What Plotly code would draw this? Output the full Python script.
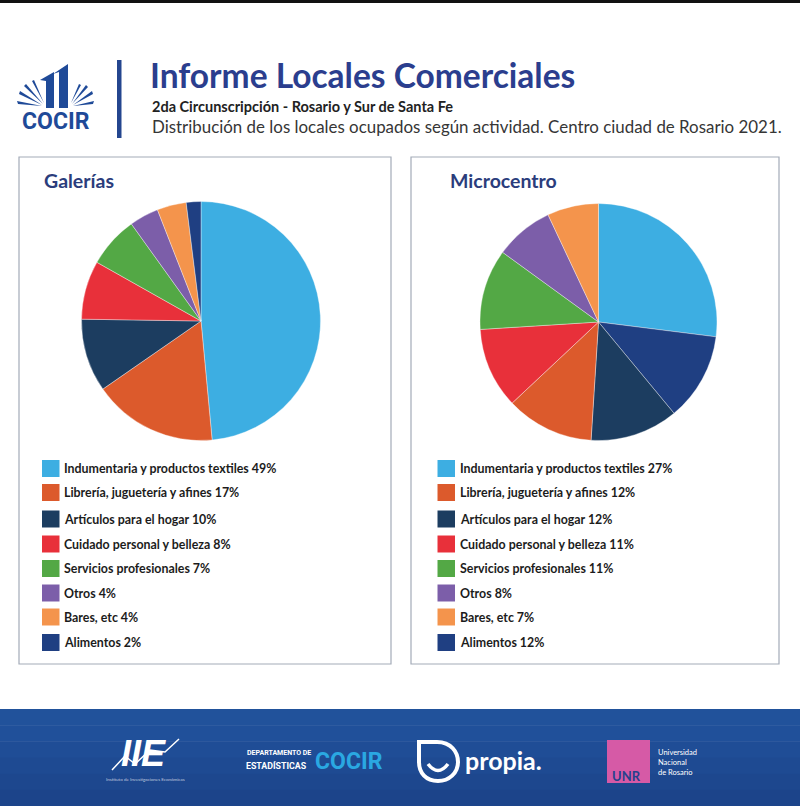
import plotly.graph_objects as go

# ---------------- data ----------------
categories = [
    "Indumentaria y productos textiles",
    "Librería, juguetería y afines",
    "Artículos para el hogar",
    "Cuidado personal y belleza",
    "Servicios profesionales",
    "Otros",
    "Bares, etc",
    "Alimentos",
]
colors = ["#3daee2", "#dc5a2c", "#1c3d60", "#e8303a", "#53a845", "#7c5ea9", "#f4944c", "#1f3f82"]
galerias_pct = [49, 17, 10, 8, 7, 4, 4, 2]
microcentro_pct = [27, 12, 12, 11, 11, 8, 7, 12]
# clockwise drawing order (from 12 o'clock) of slices in each pie
galerias_order = [0, 1, 2, 3, 4, 5, 6, 7]
microcentro_order = [0, 7, 2, 1, 3, 4, 5, 6]
panel_titles = ["Galerías", "Microcentro"]

W, H = 800, 806
FONT = "Lato"
NARROW = "Roboto"


def px(x):
    return x / W


def py(y):
    return 1 - y / H


fig = go.Figure()

# hidden axes in pixel units for decorative shapes
fig.add_trace(go.Scatter(x=[], y=[], hoverinfo="skip", showlegend=False))


def add_pie(values, order, cx, cy, r, name):
    fig.add_trace(go.Pie(
        labels=[categories[i] for i in order],
        values=[values[i] for i in order],
        marker=dict(colors=[colors[i] for i in order], line=dict(color="rgba(255,255,255,0.6)", width=0.6)),
        sort=False,
        direction="clockwise",
        rotation=0,
        textinfo="none",
        hoverinfo="label+percent",
        showlegend=False,
        name=name,
        domain=dict(x=[px(cx - r), px(cx + r)], y=[py(cy + r), py(cy - r)]),
    ))


add_pie(galerias_pct, galerias_order, 201, 321, 119.5, panel_titles[0])
add_pie(microcentro_pct, microcentro_order, 598.5, 322, 118.5, panel_titles[1])

shapes = []
annotations = []

# top black border
shapes.append(dict(type="rect", xref="x", yref="y", x0=0, x1=800, y0=0, y1=3,
                   fillcolor="#111111", line=dict(width=0)))

# panels
panels = [(19, 391), (411, 779)]
for (x0, x1) in panels:
    shapes.append(dict(type="rect", xref="x", yref="y", x0=x0, x1=x1, y0=157, y1=664,
                       fillcolor="rgba(0,0,0,0)", line=dict(color="#a3abb8", width=1.2)))

annotations.append(dict(x=42, y=180, text="<b>" + panel_titles[0] + "</b>", xref="x", yref="y",
                        xanchor="left", yanchor="middle", showarrow=False,
                        font=dict(family=FONT, size=19.5, color="#2b3d7c")))
annotations.append(dict(x=448, y=180, text="<b>" + panel_titles[1] + "</b>", xref="x", yref="y",
                        xanchor="left", yanchor="middle", showarrow=False,
                        font=dict(family=FONT, size=19.5, color="#2b3d7c")))

# legends
row_y = [468.5, 492.5, 519, 544, 568.5, 593, 617, 642.5]
for (sq_x, txt_x, vals) in [(42, 61.5, galerias_pct), (437.5, 457.5, microcentro_pct)]:
    for i, cat in enumerate(categories):
        y = row_y[i]
        shapes.append(dict(type="rect", xref="x", yref="y", x0=sq_x, x1=sq_x + 17.5,
                           y0=y - 8.5, y1=y + 8.5, fillcolor=colors[i], line=dict(width=0)))
        annotations.append(dict(x=txt_x, y=y, text="<b>%s %d%%</b>" % (cat, vals[i]),
                                xref="x", yref="y", xanchor="left", yanchor="middle",
                                showarrow=False,
                                font=dict(family=FONT, size=12.4, color="#1c1c1c")))

# ---------------- header ----------------
logo_blue = "#1f4a98"
# "11" of logo
shapes.append(dict(type="path", xref="x", yref="y",
                   path="M40,80 L54,72 L54,108 L46,108 L46,81 Z",
                   fillcolor=logo_blue, line=dict(width=0)))
shapes.append(dict(type="path", xref="x", yref="y",
                   path="M53,74 L68,64 L68,108 L59,108 L59,72 Z",
                   fillcolor=logo_blue, line=dict(width=0)))
# rays
rays_left = ["M42,106 L17,101 L18,104 Z", "M42,105 L20,91 L19,94 Z", "M43,104 L26,84 L24,86 Z",
             "M44,103 L34,80 L32,81 Z"]
rays_right = ["M73,106 L94,101 L93,104 Z", "M73,105 L92,91 L93,94 Z", "M72,104 L86,85 L88,87 Z",
              "M71,103 L79,84 L81,85 Z"]
for p in rays_left + rays_right:
    shapes.append(dict(type="path", xref="x", yref="y", path=p, fillcolor=logo_blue, line=dict(width=0)))
annotations.append(dict(x=56, y=121, text="<b>COCIR</b>", xref="x", yref="y", xanchor="center",
                        yanchor="middle", showarrow=False,
                        font=dict(family=NARROW, size=23, color=logo_blue)))
# vertical separator
shapes.append(dict(type="rect", xref="x", yref="y", x0=117, x1=121.5, y0=60, y1=138,
                   fillcolor="#24468f", line=dict(width=0)))

annotations.append(dict(x=148, y=75, text="<b>Informe Locales Comerciales</b>", xref="x", yref="y",
                        xanchor="left", yanchor="middle", showarrow=False,
                        font=dict(family=FONT, size=33.5, color="#2b3e8e")))
annotations.append(dict(x=150, y=106, text="<b>2da Circunscripción - Rosario y Sur de Santa Fe</b>",
                        xref="x", yref="y", xanchor="left", yanchor="middle", showarrow=False,
                        font=dict(family=FONT, size=14.5, color="#222222")))
annotations.append(dict(x=150, y=126,
                        text="Distribución de los locales ocupados según actividad. Centro ciudad de Rosario 2021.",
                        xref="x", yref="y", xanchor="left", yanchor="middle", showarrow=False,
                        font=dict(family=FONT, size=16.9, color="#363636")))

# ---------------- footer ----------------
band = ["#21529b", "#20509a", "#1f4d96", "#1e4a92", "#1d478e", "#1c448a"]
n = len(band)
for k, c in enumerate(band):
    shapes.append(dict(type="rect", xref="x", yref="y", x0=0, x1=800,
                       y0=709 + k * (97 / n), y1=709 + (k + 1) * (97 / n) + 0.5,
                       fillcolor=c, line=dict(width=0)))

# IIE logo
annotations.append(dict(x=143, y=753, text="<b><i>IIE</i></b>", xref="x", yref="y", xanchor="center",
                        yanchor="middle", showarrow=False,
                        font=dict(family="Liberation Sans", size=36, color="white")))
shapes.append(dict(type="path", xref="x", yref="y",
                   path="M112,770 L125,756 L135,764 L150,750 L165,752 L179,739",
                   line=dict(color="white", width=1.5)))
annotations.append(dict(x=145, y=779, text="Instituto de Investigaciones Económicas", xref="x", yref="y",
                        xanchor="center", yanchor="middle", showarrow=False,
                        font=dict(family=FONT, size=4.5, color="rgba(255,255,255,0.7)")))

# Departamento de Estadísticas COCIR
annotations.append(dict(x=245, y=753, text="<b>DEPARTAMENTO DE</b>", xref="x", yref="y", xanchor="left",
                        yanchor="middle", showarrow=False,
                        font=dict(family=NARROW, size=7, color="white")))
annotations.append(dict(x=244, y=765, text="<b>ESTADÍSTICAS</b>", xref="x", yref="y", xanchor="left",
                        yanchor="middle", showarrow=False,
                        font=dict(family=NARROW, size=8.8, color="white")))
annotations.append(dict(x=313, y=761, text="<b>COCIR</b>", xref="x", yref="y", xanchor="left",
                        yanchor="middle", showarrow=False,
                        font=dict(family=NARROW, size=23, color="#2aa8e2")))

# propia logo
shapes.append(dict(type="path", xref="x", yref="y",
                   path="M419,742 L437,742 C451,742 458,752 458,762 C458,773 449,781 438,781 C426,781 419,773 419,762 Z",
                   line=dict(color="white", width=4), fillcolor="rgba(0,0,0,0)"))
shapes.append(dict(type="path", xref="x", yref="y",
                   path="M428,764 Q438,777 448,764",
                   line=dict(color="white", width=3.5), fillcolor="rgba(0,0,0,0)"))
annotations.append(dict(x=463, y=760, text="<b>propia.</b>", xref="x", yref="y", xanchor="left",
                        yanchor="middle", showarrow=False,
                        font=dict(family=FONT, size=25, color="white")))

# UNR logo
shapes.append(dict(type="rect", xref="x", yref="y", x0=607, x1=650, y0=740, y1=783,
                   fillcolor="#d65aa6", line=dict(width=0)))
annotations.append(dict(x=610, y=776, text="<b>UNR</b>", xref="x", yref="y", xanchor="left",
                        yanchor="middle", showarrow=False,
                        font=dict(family=FONT, size=13, color="#27418c")))
annotations.append(dict(x=656, y=762, text="Universidad<br>Nacional<br>de Rosario", xref="x", yref="y",
                        xanchor="left", yanchor="middle", align="left", showarrow=False,
                        font=dict(family=FONT, size=7.5, color="white")))

fig.update_layout(
    width=W, height=H,
    margin=dict(l=0, r=0, t=0, b=0),
    paper_bgcolor="white",
    plot_bgcolor="rgba(0,0,0,0)",
    xaxis=dict(range=[0, W], visible=False, fixedrange=True, domain=[0, 1]),
    yaxis=dict(range=[H, 0], visible=False, fixedrange=True, domain=[0, 1]),
    shapes=shapes,
    annotations=annotations,
    showlegend=False,
)

fig.write_html("out.html", config={"displayModeBar": False},
               post_script="document.body.style.margin='0';document.body.style.overflow='hidden';")
